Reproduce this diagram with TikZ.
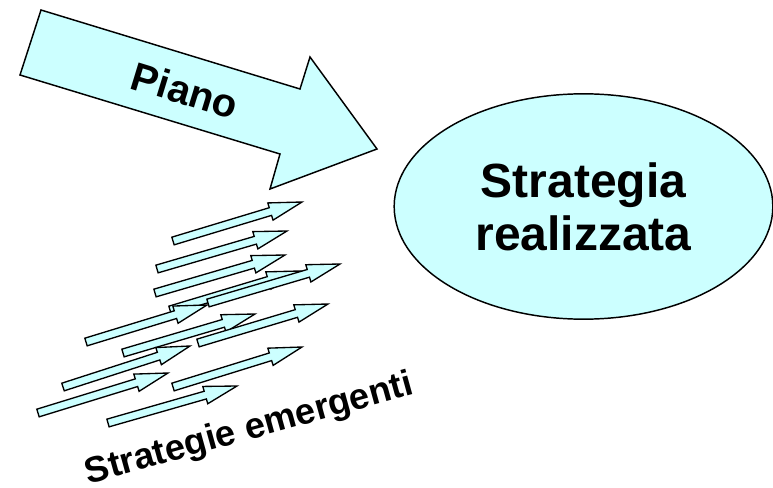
\documentclass[tikz,border=0pt]{standalone}
\usepackage{fontspec}
\setmainfont{Liberation Sans}
\usetikzlibrary{calc,shapes.geometric}
\definecolor{lightcyan}{HTML}{CCFFFF}

% small emergent arrow from tail #1 to tip #2
\newcommand{\emarrow}[2]{%
  \coordinate (hb) at ($(#2)!24.75pt!(#1)$);
  \draw[emerg] ($(#1)!3pt!90:(#2)$) -- ($(hb)!3pt!90:(#2)$)
    -- ($(hb)!6.75pt!90:(#2)$) -- (#2) -- ($(hb)!6.75pt!-90:(#2)$)
    -- ($(hb)!3pt!-90:(#2)$) -- ($(#1)!3pt!-90:(#2)$) -- cycle;
}

\begin{document}
\begin{tikzpicture}[x=0.75pt, y=-0.75pt,
    emerg/.style={draw=black, fill=lightcyan, line width=1pt},
    bigtext/.style={font=\bfseries\fontsize{30}{34}\selectfont}]
    \useasboundingbox (0,0) rectangle (773,488);
    % plan arrow
    \draw[fill=lightcyan, line width=1.1pt] (41,10) -- (300,89) -- (310,57) -- (377,149)
        -- (270,189) -- (280,154) -- (20,75) -- cycle;
    \node[bigtext, rotate=-17, anchor=base] (piano) at (181,104) {Piano};
    % realized strategy
    \node[ellipse, draw=black, fill=lightcyan, line width=1.1pt,
          minimum width=284pt, minimum height=169pt, align=center,
          font=\bfseries\fontsize{36}{39.75}\selectfont] (real) at (583.5,206.5) {Strategia\\realizzata};
    % emergent arrows
    \foreach \i/\tx/\ty/\hx/\hy in {1/173/241/302/202, 2/157/269/287/231, 3/155/293/285/255,
        4/170/310/300/271, 6/86/342/207/305, 5/208/303/340/264, 7/123/353/255/314,
        8/198/343/328/304, 9/63/387/190/346, 10/38/413/168/373, 11/173/387/302/347,
        12/108/423/237/386} {
        \coordinate (t\i) at (\tx,\ty);
        \coordinate (h\i) at (\hx,\hy);
        \emarrow{t\i}{h\i}
    }
    \node[font=\bfseries\fontsize{27.2}{30}\selectfont, rotate=15.5, anchor=base] (emerg) at (252,439) {Strategie emergenti};
\end{tikzpicture}
\end{document}
